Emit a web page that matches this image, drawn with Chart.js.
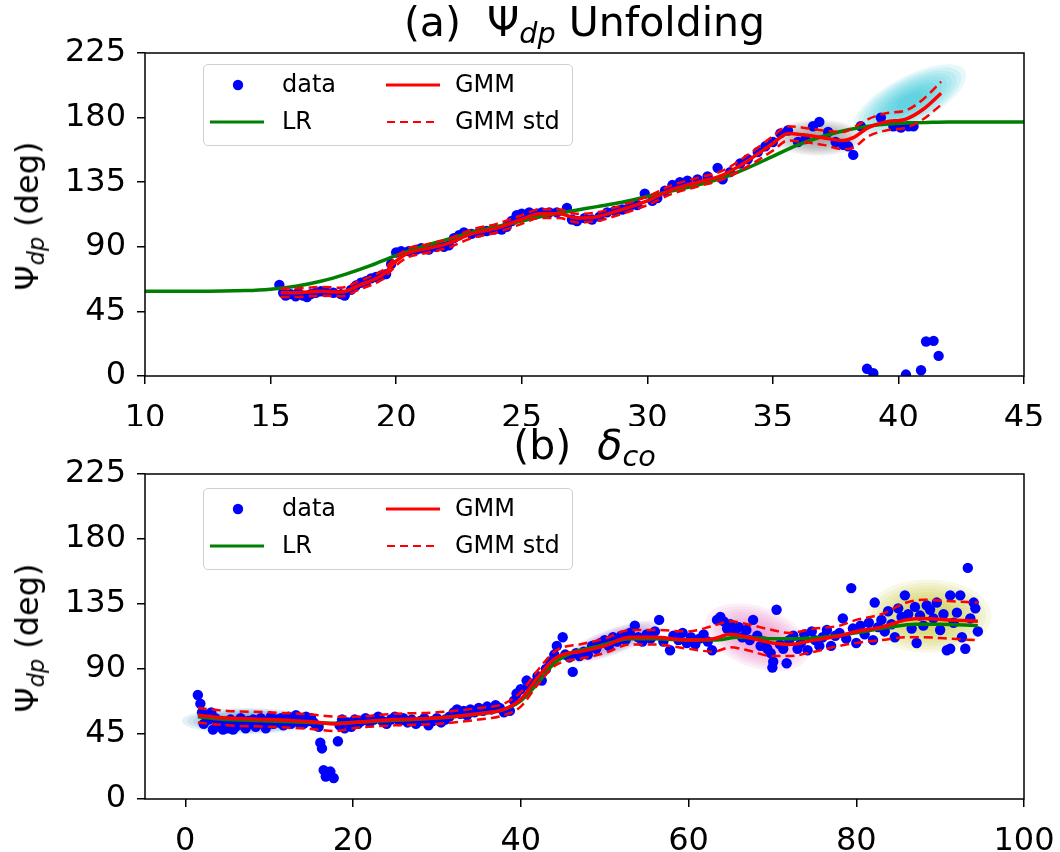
<!DOCTYPE html>
<html>
<head>
<meta charset="utf-8">
<script src="https://cdn.jsdelivr.net/npm/chart.js@4.4.1/dist/chart.umd.min.js"></script>
<style>
  body { margin: 0; background: #fff; font-family: 'DejaVu Sans', sans-serif; }
  #wrap { position: relative; width: 1060px; height: 852px; overflow: hidden; }
  canvas { position: absolute; left: 0; }
  .title { position: absolute; left: 145px; width: 879px; text-align: center; font-size: 41px; line-height: 46px; color: #000; white-space: nowrap; }
  .ylab { position: absolute; font-size: 32px; line-height: 38px; color: #000; white-space: nowrap; transform: translate(-50%, -50%) rotate(-90deg); }
  sub { font-size: 0.7em; vertical-align: -0.25em; line-height: 0; }
  .legend { position: absolute; left: 203px; width: 368px; height: 80px; border: 1.5px solid #d0d0d0; border-radius: 5px; background: rgba(255,255,255,0.8); font-size: 24px; color: #000; }
  .legend .it { position: absolute; white-space: nowrap; line-height: 28px; }
  .legend svg { position: absolute; }
</style>
</head>
<body>
<div id="wrap">
  <canvas id="chartA" width="1060" height="426" style="top:0"></canvas>
  <canvas id="chartB" width="1060" height="426" style="top:426px"></canvas>

  <div class="title" style="top:-1px">(a)&nbsp;&nbsp;Ψ<sub><i>dp</i></sub> Unfolding</div>
  <div class="title" style="top:422px">(b)&nbsp;&nbsp;<i>δ</i><sub><i>co</i></sub></div>

  <div class="ylab" style="left:27px; top:216px">Ψ<sub><i>dp</i></sub> (deg)</div>
  <div class="ylab" style="left:27px; top:638px">Ψ<sub><i>dp</i></sub> (deg)</div>

  <div class="legend" style="top:64px" id="legA"></div>
  <div class="legend" style="top:488px" id="legB"></div>
</div>

<script>
// ---------- (a) Psi_dp unfolding ----------
const aDataX = [15.35, 15.5, 15.6, 15.8, 16.0, 16.1, 16.3, 16.45, 16.6, 16.8, 17.0, 17.2, 17.5, 17.8, 17.95,
  18.2, 18.4, 18.6, 18.8, 19.0, 19.2, 19.4, 19.6, 19.8, 20.0, 20.2, 20.5, 20.8, 21.0, 21.3, 21.6, 21.9, 22.1,
  22.3, 22.5, 22.7, 23.0, 23.3, 23.6, 23.9, 24.2, 24.4, 24.6, 24.8, 25.0, 25.3, 25.6, 25.8, 26.1, 26.4, 26.8,
  27.0, 27.2, 27.5, 27.8, 28.1, 28.4, 28.7, 29.0, 29.3, 29.6, 29.9, 30.2, 30.4, 30.7, 31.0, 31.3, 31.6, 32.0,
  32.4, 32.8, 33.0, 33.3, 33.7, 34.0, 34.4, 34.7, 35.0, 35.3, 35.6, 36.0, 36.3, 36.6, 36.85, 37.2, 37.5, 37.8,
  38.0, 38.2, 38.5, 39.3, 39.8, 40.1, 40.4, 40.6, 38.75, 39.0, 40.3, 40.9, 41.1, 41.4, 41.6];
const aDataY = [63.5, 58, 56, 57, 55.5, 58, 56, 55, 57, 58, 59, 58.5, 58, 57, 56,
  60, 63, 65, 66, 68, 69, 70, 71, 78, 86, 87, 87, 88, 89, 88, 90, 90, 91,
  96, 98, 100, 99, 100, 101, 102, 102, 104, 108, 112, 113, 114, 113, 114, 114, 114, 117,
  109, 108, 110, 109, 111, 114, 115, 116, 118, 119, 127, 122, 124, 129, 133, 135, 136, 137,
  139, 145, 137, 142, 148, 151, 156, 160, 163, 169, 171, 163, 165, 174, 177, 170, 163, 161,
  160, 154, 174, 180, 174, 173, 174, 174, 5, 2, 1, 4, 24, 24.5, 14];

const aLrX = [10, 12, 14, 15, 16, 17, 18, 19, 20, 21, 22, 23, 24, 25, 26, 27, 28, 29, 30, 31, 32, 33, 34,
  35, 36, 37, 38, 39, 40, 41, 42, 43, 45];
const aLrY = [59, 59, 59.5, 60.5, 62.5, 66, 71, 77, 84, 90, 95, 100, 104, 108, 112, 115, 118, 121, 125,
  129, 133, 138, 145, 153, 161, 167, 171.5, 174.5, 176, 176.5, 177, 177, 177];

const aGmmX = [15.4, 16, 17, 17.8, 18.5, 19.5, 20, 20.5, 21, 22, 23, 24, 25, 25.7, 26.5, 27.2, 28, 29, 30,
  31, 32, 33, 34, 35, 35.6, 36.2, 37, 37.8, 38.2, 38.8, 39.5, 40.3, 41, 41.7];
const aGmmY = [58, 58, 59, 58.5, 63, 71, 80, 86, 88, 92, 99, 103, 109, 113, 113, 110, 111, 116, 122,
  130, 135, 140, 150, 162, 169, 168, 166, 164, 166, 173, 177, 179, 186, 197];
const aStdW = [3, 3, 3, 3, 3, 3, 3, 3, 3, 3, 3, 3, 3, 3, 3, 3, 3, 3, 3,
  3, 3, 3, 4, 5, 5, 5, 5, 6, 7, 6, 6, 6, 7, 8];

// GMM components (centre, half-spread in data units, tilt)
const aCompX = [36.8, 40.45];
const aCompY = [166, 192];
const aCompSx = [1.8, 2.5];
const aCompSy = [12.5, 16.5];
const aCompTilt = [0, -28];

// ---------- (b) delta_co ----------
const bDataX = [1.5, 1.8, 2.0, 2.2, 2.5, 2.8, 3.1, 3.3, 3.6, 3.9, 4.2, 4.5, 4.8, 5.1, 5.4, 5.7, 6.0, 6.3, 6.6,
  6.9, 7.2, 7.5, 7.8, 8.1, 8.4, 8.7, 9.0, 9.3, 9.6, 9.9, 10.2, 10.5, 10.8, 11.1, 11.4, 11.7, 12.0, 12.3, 12.6,
  12.9, 13.2, 13.5, 13.8, 14.1, 14.4, 14.7, 15.0, 15.3, 15.6, 15.9, 16.1, 16.3, 16.5, 16.75, 17.3, 17.7, 18.2,
  18.4, 18.7, 19.0, 19.4, 19.8, 20.2, 20.6, 21.0, 21.5, 22.0, 22.5, 23.0, 23.5, 24.0, 24.5, 25.0, 25.5, 26.0,
  26.5, 27.0, 27.5, 28.0, 28.5, 29.0, 29.5, 30.0, 30.5, 31.0, 31.5, 32.0, 32.4, 32.8, 33.2, 33.6, 34.0, 34.5,
  35.0, 35.5, 36.0, 36.5, 37.0, 37.5, 38.0, 38.7, 39.2, 39.5, 40.0, 40.7, 41.0, 41.5, 42.0, 42.5, 43.0, 43.5,
  44.0, 44.3, 45.0, 45.3, 45.8, 46.2, 46.6, 47.0, 47.5, 48.0, 48.5, 49.0, 49.5, 50.0, 50.5, 51.0, 51.5, 52.0,
  52.5, 53.0, 53.6, 54.0, 54.5, 55.0, 55.5, 56.0, 56.5, 57.0, 57.8, 58.2, 58.8, 59.3, 59.8, 60.3, 60.8, 61.3,
  61.8, 62.3, 62.8, 63.4, 63.8, 64.2, 64.6, 65.0, 65.5, 66.0, 66.4, 66.9, 67.3, 67.7, 68.2, 68.6, 69.0, 69.4,
  69.8, 70.0, 70.1, 70.5, 70.9, 71.3, 71.7, 72.0, 72.5, 73.0, 73.4, 73.8, 74.2, 74.7, 75.1, 75.6, 76.0, 76.5,
  77.0, 77.5, 78.0, 78.4, 78.8, 79.4, 79.6, 80.0, 80.5, 81.0, 81.5, 82.0, 82.2, 82.6, 83.0, 83.4, 83.8, 84.2,
  84.6, 85.0, 85.4, 85.8, 86.2, 86.6, 87.0, 87.2, 87.6, 88.0, 88.4, 88.8, 89.2, 89.6, 90.0, 90.4, 90.8, 91.2,
  91.2, 91.6, 92.0, 92.4, 92.6, 93.0, 93.3, 93.6, 94.0, 94.2, 94.5];
const bDataY = [72, 66, 60, 52, 58, 55, 60, 48, 56, 53, 50, 48, 52, 49, 55, 48, 50, 53, 56,
  51, 49, 54, 52, 55, 50, 53, 56, 52, 49, 54, 57, 52, 55, 53, 56, 51, 54, 57, 52,
  55, 58, 53, 56, 52, 57, 54, 56, 53, 51, 50, 39, 35, 20, 15.5, 19, 14.5, 40,
  51, 55, 49, 53, 50, 55, 52, 54, 56, 53, 55, 57, 54, 52, 55, 57, 54, 56,
  53, 55, 52, 54, 56, 51, 54, 56, 53, 55, 57, 60, 62, 59, 61, 58, 62, 60,
  63, 61, 64, 62, 65, 63, 60, 61, 68, 73, 76, 82, 78, 80, 85, 82, 90, 95,
  100, 106, 112, 100, 98, 88, 101, 99, 102, 100, 106, 104, 108, 110, 106, 112, 109, 113,
  110, 115, 120, 112, 109, 114, 111, 116, 124, 109, 103, 113, 110, 115, 108, 112, 107, 111,
  114, 109, 103, 124, 126, 123, 118, 121, 115, 119, 112, 117, 110, 124, 113, 106, 109, 104,
  101, 91, 95, 131, 107, 104, 94, 110, 113, 104, 108, 114, 103, 116, 110, 106, 112, 117,
  106, 113, 115, 125, 111, 146, 118, 108, 120, 114, 122, 110, 136, 119, 124, 116, 130, 121,
  112, 132, 126, 141, 128, 118, 133, 108, 127, 120, 134, 131, 125, 136, 117, 128, 103, 104,
  141, 122, 129, 141, 112, 104, 160, 125, 136, 132, 116];

const bLrX = [1.5, 5, 10, 15, 18, 20, 25, 30, 35, 38, 40, 42, 44, 46, 48, 50, 53, 56, 60, 63, 66, 70, 73,
  76, 80, 84, 87, 90, 94.5];
const bLrY = [57, 55, 54, 53, 52.5, 53, 54.5, 56, 59, 62, 68, 80, 94, 101, 104, 107, 111, 111, 110, 110,
  112, 111, 111, 112, 115, 119, 121, 121, 120];

const bGmmX = [1.5, 5, 10, 15, 18, 20, 25, 30, 35, 38, 40, 42, 44, 45, 47, 50, 53, 56, 60, 63, 65, 67, 70,
  72, 75, 78, 80, 83, 86, 88, 91, 94.5];
const bGmmY = [58, 56, 55, 53.5, 52, 53, 55, 56, 59, 62, 69, 84, 97, 100, 102, 106, 112, 112, 110, 111,
  114, 112, 108, 107, 110, 113, 116, 119, 124, 125, 124, 123];
const bStdW = [5, 5, 5, 5, 5, 4, 4, 4, 4, 4, 5, 5, 5, 5, 5, 5, 5, 5, 6, 9,
  9, 9, 9, 8, 8, 7, 8, 9, 12, 13, 13, 13];

const bCompX = [7.4, 68.2, 88.6, 51];
const bCompY = [54, 112, 126.5, 109];
const bCompSx = [7.8, 6.5, 7.5, 6];
const bCompSy = [9, 21, 25.5, 9];
const bCompTilt = [0, 20, 0, -20];

// ticks
const yTicks = [0, 45, 90, 135, 180, 225];
const aXTicks = [10, 15, 20, 25, 30, 35, 40, 45];
const bXTicks = [0, 20, 40, 60, 80, 100];

// ---------- helpers ----------
function pts(xs, ys) {
  return xs.map((x, i) => ({ x: x, y: ys[i] }));
}
function offset(ys, ws, sign) {
  return ys.map((y, i) => y + sign * ws[i]);
}

const tickFont = { family: 'DejaVu Sans', size: 32 };

function axisCfg(min, max, ticks, fitSize, isX) {
  return {
    type: 'linear',
    min: min,
    max: max,
    afterBuildTicks: function (scale) {
      scale.ticks = ticks.map(v => ({ value: v }));
    },
    afterFit: function (scale) {
      // fixed axis size, and no extra room for overhanging labels
      if (isX) scale.height = fitSize; else scale.width = fitSize;
      scale.paddingLeft = 0;
      scale.paddingRight = 0;
      scale.paddingTop = 0;
      scale.paddingBottom = 0;
    },
    grid: { display: true, drawOnChartArea: false, drawTicks: true, tickLength: 8, color: '#000', lineWidth: 1.5 },
    border: { display: false },
    ticks: { font: tickFont, color: '#000', padding: isX ? 15 : 11, maxRotation: 0, autoSkip: false }
  };
}

// frame around the plot area
const framePlugin = {
  id: 'frame',
  afterDraw(chart) {
    const a = chart.chartArea, ctx = chart.ctx;
    ctx.save();
    ctx.strokeStyle = '#000';
    ctx.lineWidth = 1.5;
    ctx.strokeRect(a.left, a.top, a.right - a.left, a.bottom - a.top);
    ctx.restore();
  }
};

// shaded GMM component ellipses, drawn through the scales
function shadePlugin(cx, cy, sx, sy, tilt, colors) {
  return {
    id: 'gmmShade',
    beforeDatasetsDraw(chart) {
      const xs = chart.scales.x, ys = chart.scales.y, ctx = chart.ctx, a = chart.chartArea;
      ctx.save();
      ctx.beginPath();
      ctx.rect(a.left, a.top, a.right - a.left, a.bottom - a.top);
      ctx.clip();
      cx.forEach((x, i) => {
        const px = xs.getPixelForValue(x), py = ys.getPixelForValue(cy[i]);
        const rx = Math.abs(xs.getPixelForValue(x + sx[i]) - px);
        const ry = Math.abs(ys.getPixelForValue(cy[i] + sy[i]) - py);
        const n = 10;
        ctx.fillStyle = colors[i];
        for (let k = 0; k < n; k++) {
          const f = 1 - k / n * 0.85;
          ctx.globalAlpha = 0.11;
          ctx.beginPath();
          ctx.ellipse(px, py, rx * f, ry * f, tilt[i] * Math.PI / 180, 0, Math.PI * 2);
          ctx.fill();
        }
      });
      ctx.restore();
    }
  };
}

function buildChart(id, d, xMin, xMax, xTicks, padTop, xAxisH, comps) {
  const up = offset(d.gy, d.w, 1), lo = offset(d.gy, d.w, -1);
  const lineBase = { showLine: true, pointRadius: 0, pointHoverRadius: 0, tension: 0.4, cubicInterpolationMode: 'monotone', fill: false };
  return new Chart(document.getElementById(id), {
    type: 'scatter',
    data: {
      datasets: [
        Object.assign({ label: 'GMM', data: pts(d.gx, d.gy), borderColor: '#ff0000', borderWidth: 3.5, order: 0 }, lineBase),
        Object.assign({ label: 'GMM std', data: pts(d.gx, up), borderColor: '#ff0000', borderWidth: 2.5, borderDash: [9, 5], order: 1 }, lineBase),
        Object.assign({ label: 'GMM std lo', data: pts(d.gx, lo), borderColor: '#ff0000', borderWidth: 2.5, borderDash: [9, 5], order: 1 }, lineBase),
        Object.assign({ label: 'LR', data: pts(d.lx, d.ly), borderColor: '#008000', borderWidth: 3.5, order: 2 }, lineBase),
        { label: 'data', data: pts(d.dx, d.dy), backgroundColor: '#0000ff', borderWidth: 0, pointRadius: 5.2, pointHoverRadius: 5.2, order: 3 }
      ]
    },
    options: {
      responsive: false,
      animation: false,
      devicePixelRatio: 1,
      layout: { padding: { top: padTop, right: 36, left: 0, bottom: 0 } },
      plugins: { legend: { display: false }, title: { display: false }, tooltip: { enabled: false } },
      scales: {
        x: axisCfg(xMin, xMax, xTicks, xAxisH, true),
        y: axisCfg(0, 225, yTicks, 145, false)
      }
    },
    plugins: [shadePlugin(comps.x, comps.y, comps.sx, comps.sy, comps.t, comps.c), framePlugin]
  });
}

buildChart('chartA',
  { dx: aDataX, dy: aDataY, lx: aLrX, ly: aLrY, gx: aGmmX, gy: aGmmY, w: aStdW },
  10, 45, aXTicks, 53, 50,
  { x: aCompX, y: aCompY, sx: aCompSx, sy: aCompSy, t: aCompTilt, c: ['#7f7f7f', '#17becf'] });

buildChart('chartB',
  { dx: bDataX, dy: bDataY, lx: bLrX, ly: bLrY, gx: bGmmX, gy: bGmmY, w: bStdW },
  -4.8, 100, bXTicks, 48, 53,
  { x: bCompX, y: bCompY, sx: bCompSx, sy: bCompSy, t: bCompTilt, c: ['#1f77b4', '#e377c2', '#bcbd22', '#9467bd'] });

// ---------- legends ----------
function legendHtml() {
  return '' +
    '<svg style="left:20px;top:6px" width="30" height="30"><circle cx="14" cy="14" r="5.2" fill="#0000ff"/></svg>' +
    '<div class="it" style="left:78px;top:5px">data</div>' +
    '<svg style="left:6px;top:42px" width="56" height="30"><line x1="0" y1="15" x2="54" y2="15" stroke="#008000" stroke-width="3"/></svg>' +
    '<div class="it" style="left:78px;top:42px">LR</div>' +
    '<svg style="left:182px;top:6px" width="56" height="30"><line x1="0" y1="14" x2="54" y2="14" stroke="#ff0000" stroke-width="3"/></svg>' +
    '<div class="it" style="left:251px;top:5px">GMM</div>' +
    '<svg style="left:183px;top:42px" width="56" height="30"><line x1="0" y1="15" x2="50" y2="15" stroke="#ff0000" stroke-width="2.2" stroke-dasharray="8,5"/></svg>' +
    '<div class="it" style="left:251px;top:42px">GMM std</div>';
}
document.getElementById('legA').innerHTML = legendHtml();
document.getElementById('legB').innerHTML = legendHtml();
</script>
</body>
</html>
